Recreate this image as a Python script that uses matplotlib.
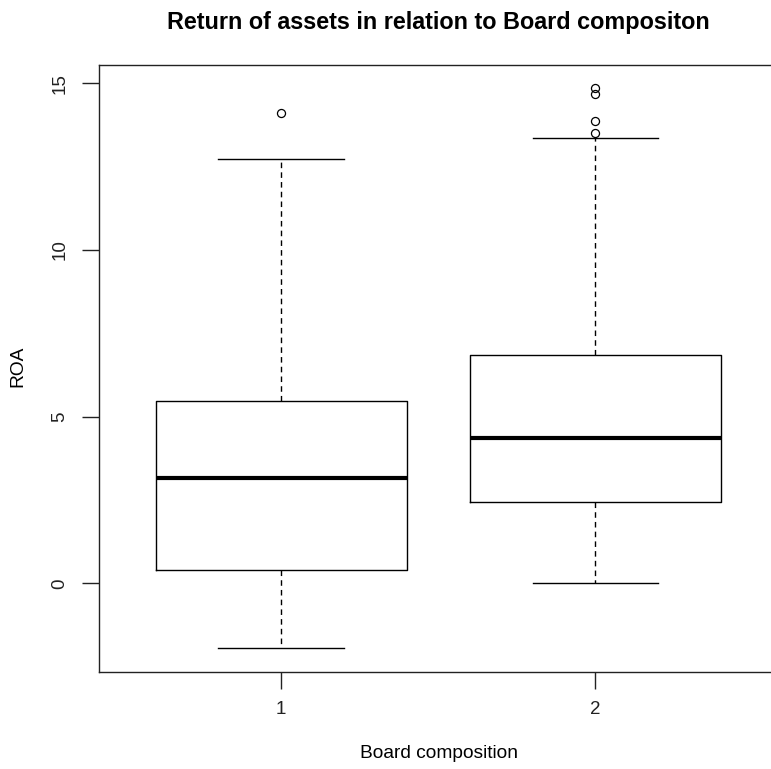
import matplotlib
matplotlib.use("Agg")
import matplotlib.pyplot as plt

plt.rcParams['font.family'] = ['Liberation Sans', 'DejaVu Sans']

groups = ["1", "2"]
whislo = [-1.94, 0.0]
q1 = [0.40, 2.44]
med = [3.15, 4.36]
q3 = [5.46, 6.85]
whishi = [12.72, 13.35]
fliers = [[14.10], [13.50, 13.88, 14.67, 14.85]]

title = "Return of assets in relation to Board compositon"
xlabel = "Board composition"
ylabel = "ROA"
yticks = [0, 5, 10, 15]

stats = []
for i, g in enumerate(groups):
    stats.append(dict(label=g, whislo=whislo[i], q1=q1[i], med=med[i],
                      q3=q3[i], whishi=whishi[i], fliers=fliers[i]))

fig = plt.figure(figsize=(7.71, 7.69), dpi=100)
ax = fig.add_axes([99/771, 97.3/769, 678.6/771, 606.7/769])

ax.bxp(stats, positions=[1, 2], widths=0.8,
       boxprops=dict(color='black', linewidth=1.0),
       medianprops=dict(color='black', linewidth=3.0, solid_capstyle='butt'),
       whiskerprops=dict(color='black', linewidth=1.0, linestyle=(0, (4, 3))),
       capprops=dict(color='black', linewidth=1.0),
       capwidths=0.4,
       flierprops=dict(marker='o', markerfacecolor='none', markeredgecolor='black',
                       markersize=5.8, markeredgewidth=0.9, linestyle='none'),
       showfliers=True)

ax.set_xlim(0.42, 2.58)
ax.set_ylim(-2.65, 15.55)
ax.set_yticks(yticks)
ax.set_yticklabels([str(t) for t in yticks], rotation=90, va='center')
ax.set_xticks([1, 2])
ax.set_xticklabels(groups)
ax.tick_params(axis='both', length=12, width=1.0, labelsize=13.5, colors='#222222')
ax.tick_params(axis='x', pad=9)
ax.tick_params(axis='y', pad=10)
for s in ax.spines.values():
    s.set_linewidth(1.0)
    s.set_color('#222222')

fig.text(438/771, 1 - 22/769, title, ha='center', va='center',
         fontsize=16.8, fontweight='bold')
fig.text(439/771, 1 - 754/769, xlabel, ha='center', va='center', fontsize=13.8)
fig.text(18/771, 1 - 366/769, ylabel, ha='center', va='center', fontsize=13.8, rotation=90)

fig.savefig("out.png", dpi=100)
